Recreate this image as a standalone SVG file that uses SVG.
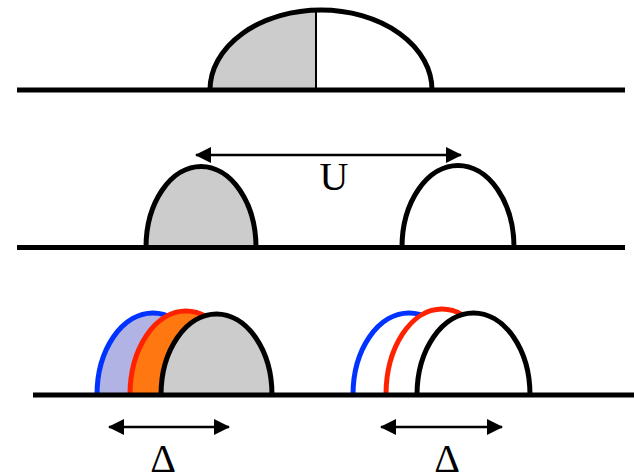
<svg xmlns="http://www.w3.org/2000/svg" width="634" height="474" viewBox="0 0 634 474">
<defs>
<style>
.base{stroke:#000;stroke-width:5;fill:none}
.dome{stroke-width:5}
.blk{stroke:#000}
.gray{fill:#cccccc}
.white{fill:#fff}
.arrow{stroke:#000;stroke-width:2.5;fill:none}
.lbl{font-family:"Liberation Serif","Times New Roman",serif;font-size:40px;fill:#000;text-anchor:middle}
</style>
<marker id="ah" viewBox="0 0 16 16" refX="15" refY="8" markerWidth="16" markerHeight="16" markerUnits="userSpaceOnUse" orient="auto-start-reverse">
<path d="M0,0 L16,8 L0,16 Z" fill="#000"/>
</marker>
</defs>
<rect width="634" height="474" fill="#fff"/>

<g id="row1">
<path class="white" d="M210,90 A111 80 0 0 1 432,90 Z"/>
<path class="gray" d="M210,90 A111 80 0 0 1 316,10.1 L316,90 Z"/>
<line x1="316" y1="10" x2="316" y2="90" stroke="#000" stroke-width="2"/>
<path class="dome blk" fill="none" d="M210,90 A111 80 0 0 1 432,90"/>
<line class="base" x1="17" y1="90" x2="625" y2="90"/>
</g>

<g id="row2">
<path class="dome blk gray" d="M146,247.5 A55 81 0 0 1 256,247.5"/>
<path class="dome blk white" d="M402,247.5 A56 82 0 0 1 514,247.5"/>
<line class="base" x1="17" y1="247.5" x2="625" y2="247.5"/>
</g>

<g id="row3-left">
<path class="dome" fill="#b0b3e3" stroke="#0033ff" d="M97,395 A56 82 0 0 1 209,395"/>
<path class="dome" fill="#ff7711" stroke="#ff2200" d="M130,395 A56 84 0 0 1 242,395"/>
<path class="dome blk gray" d="M161,395 A55.5 81 0 0 1 272,395"/>
</g>

<g id="row3-right">
<path class="dome white" stroke="#0033ff" d="M353,395 A56 82 0 0 1 465,395"/>
<path class="dome white" stroke="#ff2200" d="M386,395 A56 86 0 0 1 498,395"/>
<path class="dome blk white" d="M417,395 A56.5 82 0 0 1 530,395"/>
<line class="base" x1="33" y1="395" x2="634" y2="395"/>
</g>

<g id="connectors">
<line class="arrow" x1="196" y1="155" x2="461" y2="155" marker-start="url(#ah)" marker-end="url(#ah)"/>
<line class="arrow" x1="109" y1="427" x2="229" y2="427" marker-start="url(#ah)" marker-end="url(#ah)"/>
<line class="arrow" x1="381" y1="427" x2="502" y2="427" marker-start="url(#ah)" marker-end="url(#ah)"/>
</g>

<g id="labels">
<text class="lbl" x="334" y="190">U</text>
<text class="lbl" x="163" y="472">Δ</text>
<text class="lbl" x="447" y="472">Δ</text>
</g>
</svg>
